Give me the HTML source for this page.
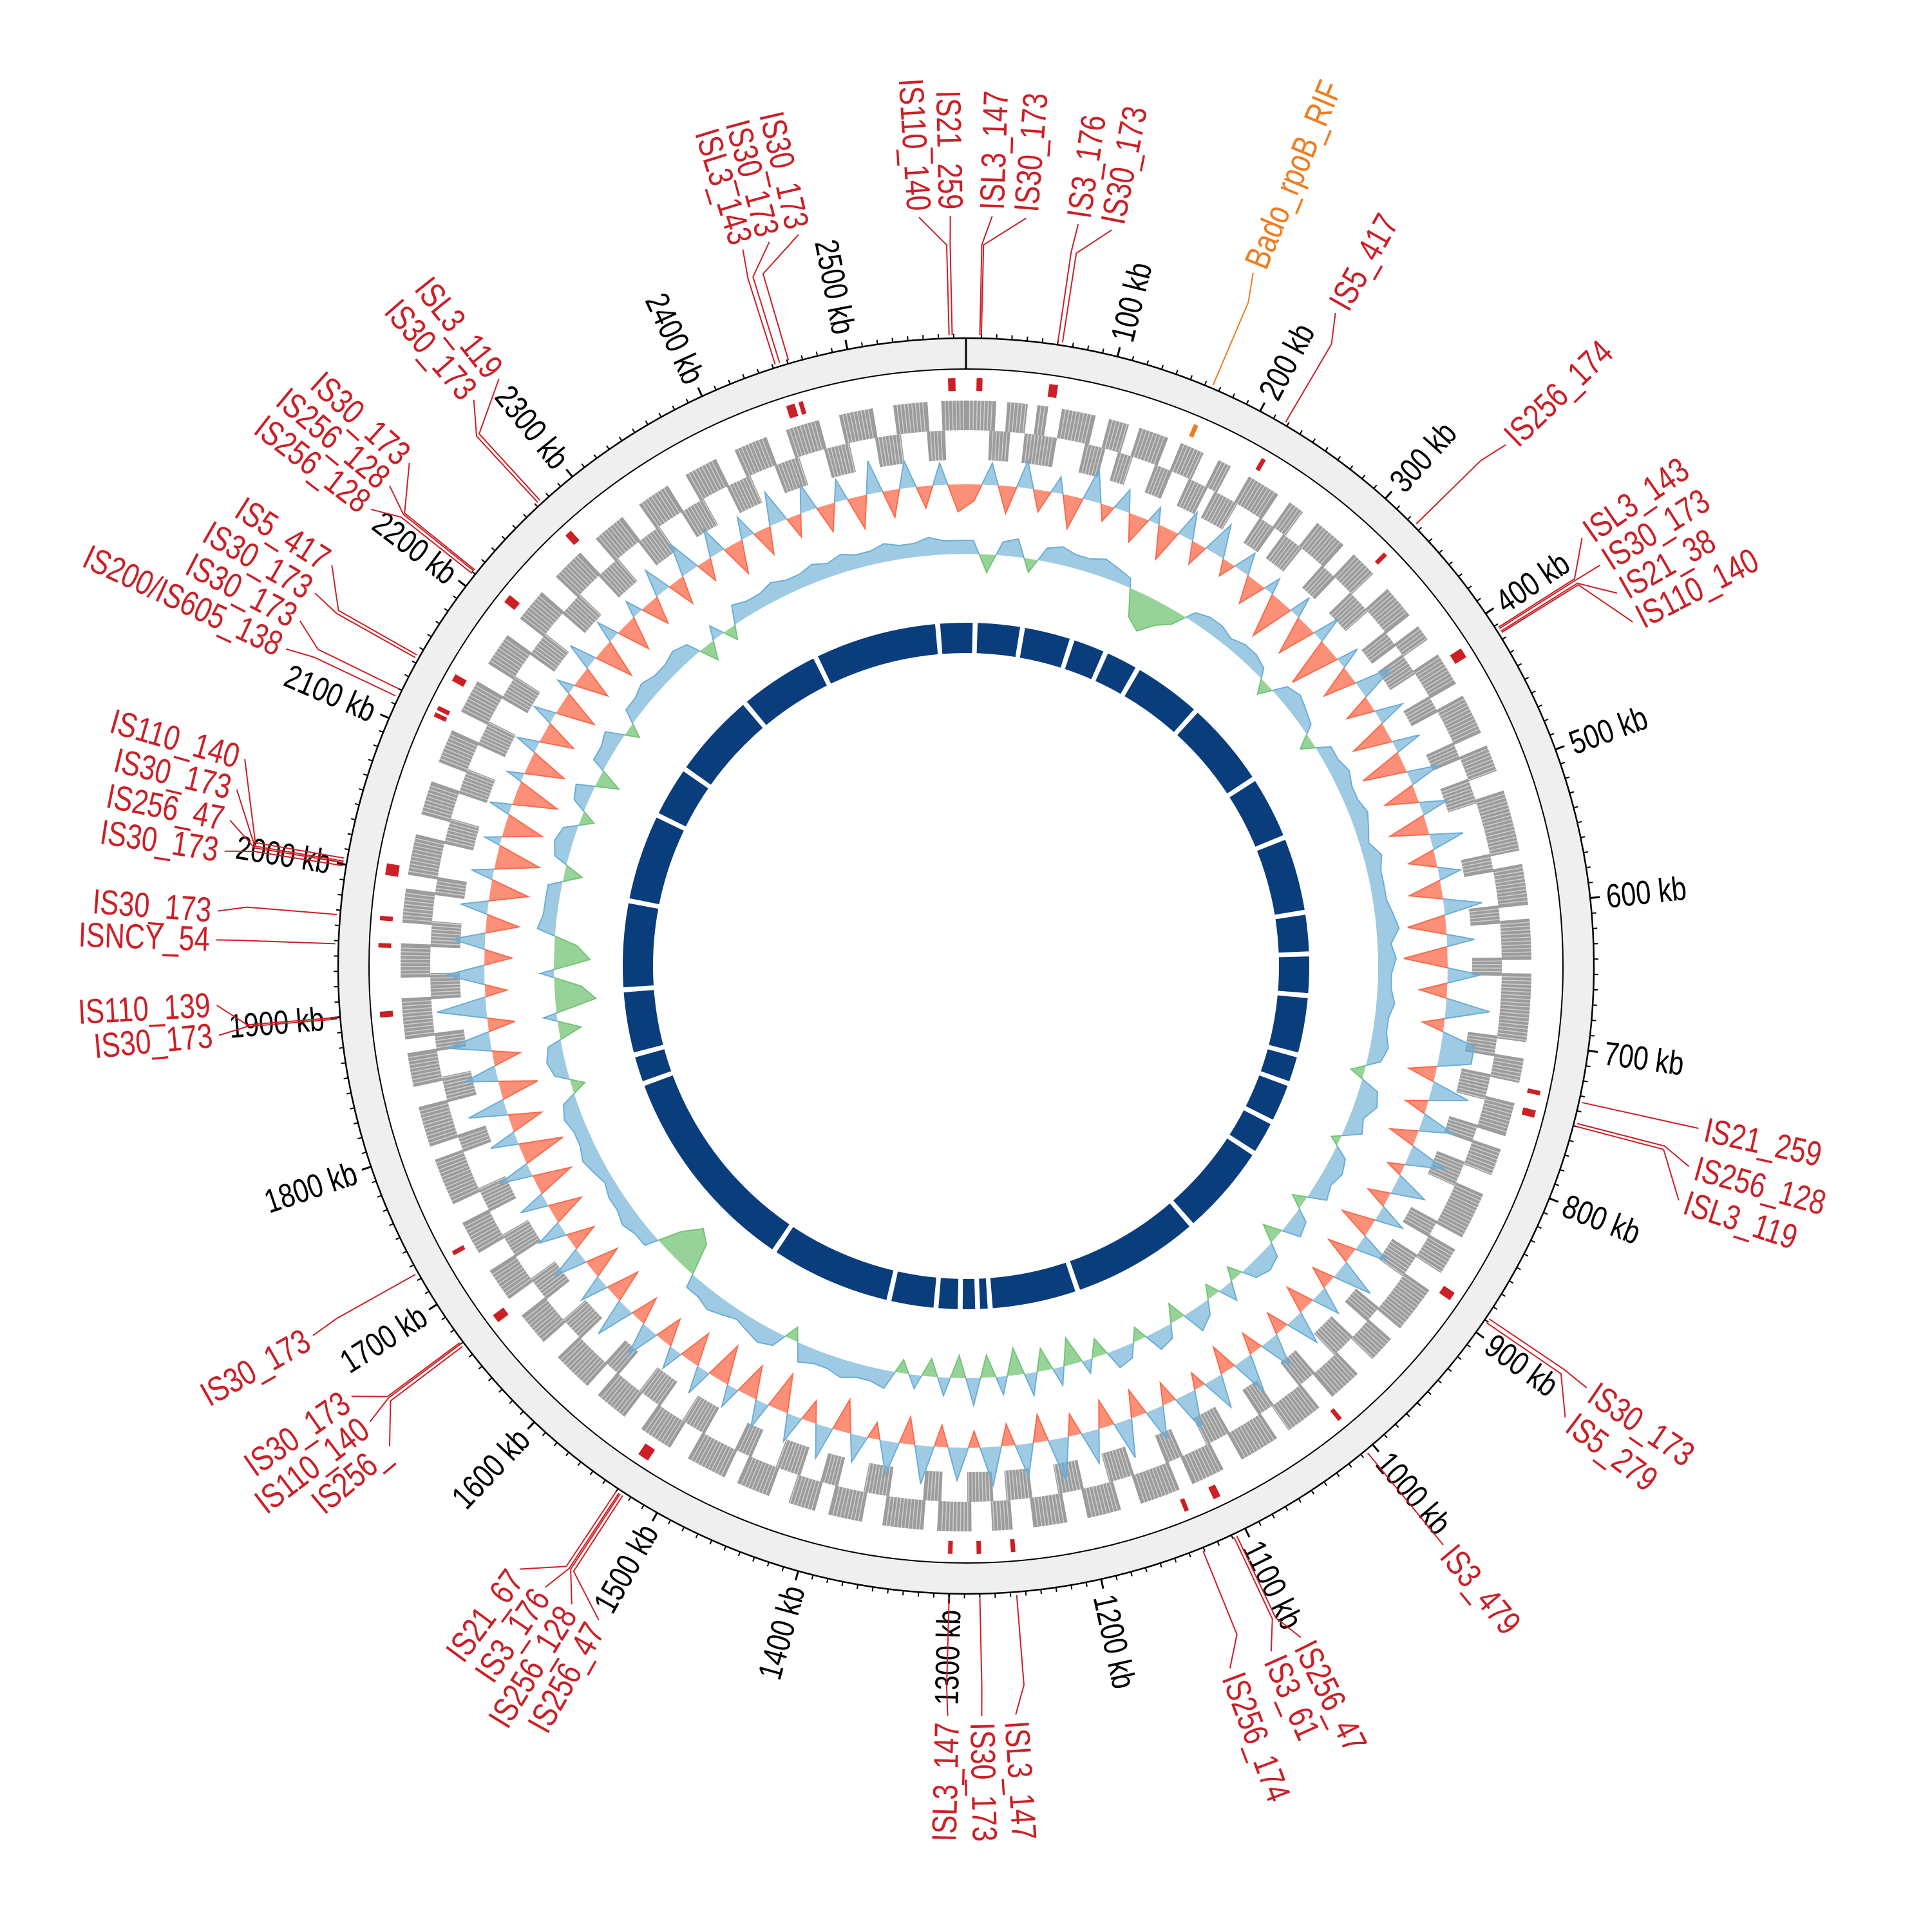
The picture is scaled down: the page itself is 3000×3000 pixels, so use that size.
<!DOCTYPE html>
<html><head><meta charset="utf-8">
<style>
html,body{margin:0;padding:0;background:#fff;}
svg{display:block;}
text{font-family:"Liberation Sans Narrow","Liberation Sans",sans-serif;}
</style></head>
<body>
<svg id="chart" width="3000" height="3000" viewBox="0 0 3000 3000" xmlns="http://www.w3.org/2000/svg">
<rect x="0" y="0" width="3000" height="3000" fill="#fff"/>
<g id="g-root"></g>
</svg>
<script>
// ---------- data ----------
const genomeKb = 2578;
const tickLabelsKb = [100,200,300,400,500,600,700,800,900,1000,1100,1200,1300,1400,1500,1600,1700,1800,1900,2000,2100,2200,2300,2400,2500];
const gcContent = [
-0.3,0.4,-0.5,0.5,-0.4,0.3,-0.6,0.6,-0.3,0.4,
-0.5,0.3,-0.6,0.5,-0.4,0.6,-0.3,0.4,-0.5,0.3,
-0.8,0.4,-0.7,0.5,-0.9,0.4,-0.6,0.7,-0.5,0.5,
-0.7,0.5,-0.8,0.6,-0.6,0.5,-0.7,0.6,-0.5,0.4,
-0.6,0.7,-0.7,0.5,-0.8,0.6,-0.5,0.8,-0.4,0.6,
0.6,-0.5,0.7,-0.4,0.6,-0.5,0.7,-0.3,0.6,-0.4,
0.5,-0.6,0.6,-0.5,0.7,-0.4,0.5,-0.5,0.6,-0.4,
0.6,-0.4,0.7,-0.5,0.6,-0.3,0.7,-0.4,0.6,-0.5,
0.7,-0.5,0.6,-0.4,0.8,-0.5,0.6,-0.4,0.7,-0.3,
0.6,-0.4,0.7,-0.5,0.6,-0.3,0.5,-0.6,0.6,-0.4,
0.5,-0.7,0.5,-0.6,0.4,-0.7,0.5,-0.6,0.4,-0.5,
0.6,-0.5,0.7,-0.6,0.5,-0.6,0.6,-0.5,0.5,-0.6,
0.5,-0.7,0.6,-0.8,0.5,-0.6,0.7,-0.7,0.6,-0.5,
0.8,-0.5,0.9,-0.4,0.7,-0.5,0.6,-0.6,0.5,-0.7,
0.4,-0.8,0.3,-0.7,0.4,-0.8,0.3,-0.7,0.4,-0.6,
0.4,-0.7,0.3,-0.6,0.5,-0.7,0.4,-0.6,0.3,-0.5,
0.5,-0.5,0.6,-0.4,0.5,-0.6,0.4,-0.5,0.6,-0.4,
0.5,-0.5,0.4,-0.6,0.6,-0.5,0.5,-0.4,0.4,-0.5];
const gcSkew = [
0.3,-0.4,0.3,0.4,-0.3,0.3,0.4,0.3,0.3,0.4,
0.3,0.2,-0.6,-0.8,-0.5,-0.3,0.2,0.3,0.3,0.2,
0.3,0.3,0.2,-0.3,0.3,0.4,0.3,0.2,-0.3,0.3,
0.3,0.4,0.3,0.3,0.4,0.3,0.2,0.4,0.3,0.3,
0.3,0.4,0.5,0.3,0.4,0.3,0.3,0.4,0.3,0.3,
0.4,0.3,-0.3,0.4,0.5,0.3,0.4,-0.2,0.3,0.4,
0.3,0.4,-0.3,0.3,0.4,-0.4,0.3,0.4,0.3,-0.3,
0.4,-0.3,0.3,0.5,-0.4,0.3,0.4,-0.3,0.3,0.4,
-0.4,0.3,-0.6,0.4,-0.5,0.5,-0.6,0.4,-0.5,0.6,
-0.5,0.4,-0.4,0.3,-0.3,0.4,0.3,0.3,0.4,0.3,
0.3,0.4,-0.3,0.3,0.4,0.3,0.2,0.3,0.4,0.3,
0.3,-0.7,-0.9,-0.5,0.3,0.3,0.4,0.3,0.3,0.2,
0.3,0.4,0.3,0.3,0.4,0.3,-0.3,0.3,0.4,0.3,
-0.5,0.3,-0.9,-0.6,0.3,-0.8,-0.5,0.4,0.3,0.3,
0.3,-0.4,0.3,0.4,0.3,-0.3,0.3,0.4,-0.5,0.3,
0.3,0.4,-0.3,0.3,0.3,0.4,0.3,0.3,0.4,0.3,
-0.4,0.3,-0.3,0.4,0.3,0.3,0.4,0.3,0.3,0.4,
0.3,0.4,0.3,0.3,0.4,0.3,0.3,0.4,0.3,0.3];
const fwdGenes = [[0,22],[30,45],[52,60],[70,95],[105,120],[128,150],[160,178],[190,200],[215,240],[250,262],[275,300],[310,330],[345,370],[380,392],[405,430],[440,470],[480,500],[515,560],[570,600],[610,640],[650,700],[712,730],[745,770],[780,800],[815,850],[860,880],[895,930],[940,960],[975,1000],[1012,1040],[1050,1080],[1095,1120],[1130,1160],[1175,1200],[1215,1240],[1255,1270],[1285,1310],[1320,1350],[1365,1390],[1400,1420],[1435,1460],[1470,1500],[1515,1540],[1555,1580],[1590,1620],[1635,1660],[1675,1700],[1715,1740],[1755,1790],[1800,1830],[1845,1870],[1880,1910],[1925,1950],[1965,1990],[2000,2030],[2045,2070],[2085,2110],[2125,2150],[2165,2190],[2205,2230],[2245,2270],[2285,2310],[2325,2350],[2365,2390],[2405,2430],[2445,2470],[2485,2510],[2525,2550],[2560,2578]];
const revGenes = [[18,34],[45,70],[92,108],[118,130],[148,162],[176,192],[198,218],[238,252],[260,278],[298,312],[328,348],[368,382],[390,408],[428,442],[468,482],[498,518],[558,572],[598,612],[638,652],[698,714],[728,748],[768,782],[798,818],[848,862],[878,898],[928,942],[958,978],[998,1014],[1038,1052],[1078,1098],[1118,1132],[1158,1178],[1198,1218],[1238,1258],[1268,1288],[1308,1322],[1348,1368],[1388,1402],[1418,1438],[1458,1472],[1498,1518],[1538,1558],[1578,1592],[1618,1638],[1658,1678],[1698,1718],[1738,1758],[1788,1802],[1828,1848],[1868,1882],[1908,1928],[1948,1968],[1988,2002],[2028,2048],[2068,2088],[2108,2128],[2148,2168],[2188,2208],[2228,2248],[2268,2288],[2308,2328],[2348,2368],[2388,2408],[2428,2448],[2468,2488],[2508,2528],[2548,2562]];
const coreGapsKb = [2544,11,68,129,172,215,301,408,487,580,630,680,752,788,838,881,995,1153,1260,1275,1296,1325,1382,1532,1790,1826,1905,2012,2120,2184,2291,2392];
const isNames = ["IS110_140","IS21_259","ISL3_147","IS30_173","IS3_176","IS30_173","Bado_rpoB_RIF","IS5_417","IS256_174","ISL3_143","IS30_173","IS21_38","IS110_140","IS21_259","IS256_128","ISL3_119","IS30_173","IS5_279","IS3_479","IS256_47","IS3_61","IS256_174","ISL3_147","IS30_173","ISL3_147","IS256_47","IS256_128","IS3_176","IS21_67","IS256_","IS110_140","IS30_173","IS30_173","IS30_173","IS110_139","ISNCY_54","IS30_173","IS30_173","IS256_47","IS30_173","IS110_140","IS200/IS605_138","IS30_173","IS30_173","IS5_417","IS256_128","IS256_128","IS30_173","IS30_173","ISL3_119","ISL3_143","IS30_173","IS30_173"];
const isKb = [2567,2569,9,10,60,63,165,218,326,412,413,415,416,734,748,750,888,891,1006,1107,1109,1131,1256,1280,1300,1525,1527,1528,1530,1668,1670,1671,1724,1899,1900,1948,1967,1999,2001,2002,2004,2115,2120,2143,2145,2209,2211,2212,2272,2274,2452,2455,2461];
const isLabelDeg = [-3.6,-1.2,2.0,4.6,8.6,11.2,22.5,29.5,46,55.2,57.7,60.2,62.7,102.5,105.5,108.2,124.2,127,140.5,153.5,156,159.4,176.2,178.8,181.4,209.3,211.7,214.1,216.5,230.2,232.6,235,240.5,264.7,267,272,274.2,278.8,281.2,283.6,286,295,297.4,299.8,302.3,307.5,309.8,312.1,319,321.5,342.7,344.8,347.1];

// ---------- helpers ----------
const NS = "http://www.w3.org/2000/svg";
const CX = 1500, CY = 1500;
const root = document.getElementById('g-root');
function ang(kb){ return kb / genomeKb * 2 * Math.PI; }
function px(r,a){ return [CX + r*Math.sin(a), CY - r*Math.cos(a)]; }
function mk(tag, attrs, parent){ const e = document.createElementNS(NS, tag); for (const k in attrs) e.setAttribute(k, attrs[k]); (parent||root).appendChild(e); return e; }
function arcPath(r1, r2, a1, a2){
  const large = (a2 - a1) > Math.PI ? 1 : 0;
  const p1 = px(r2,a1), p2 = px(r2,a2), p3 = px(r1,a2), p4 = px(r1,a1);
  return `M${p1[0]},${p1[1]} A${r2},${r2} 0 ${large} 1 ${p2[0]},${p2[1]} L${p3[0]},${p3[1]} A${r1},${r1} 0 ${large} 0 ${p4[0]},${p4[1]} Z`;
}
function circlePath(r){
  return `M${CX},${CY-r} A${r},${r} 0 1 1 ${CX},${CY+r} A${r},${r} 0 1 1 ${CX},${CY-r} Z`;
}
const SX = 0.8;

// ---------- outer ideogram ring ----------
const ring = mk('path', {d: circlePath(975) + ' ' + circlePath(927), 'fill-rule':'evenodd', fill:'#efefef', stroke:'none'});


const oc = mk('circle', {cx:CX, cy:CY, r:975, fill:'none', stroke:'#000', 'stroke-width':2.5});


const ic = mk('circle', {cx:CX, cy:CY, r:927, fill:'none', stroke:'#000', 'stroke-width':2});


const z0 = px(927,0), z1 = px(975,0);
const origin = mk('line', {x1:z0[0], y1:z0[1], x2:z1[0], y2:z1[1], stroke:'#000', 'stroke-width':3});



// ticks
const tg = mk('g', {});


for (let kb = 10; kb < genomeKb; kb += 10){
  const major = kb % 100 === 0;
  const a = ang(kb);
  const p1 = px(975, a), p2 = px(major ? 990 : 982, a);
  const t = mk('line', {x1:p1[0], y1:p1[1], x2:p2[0], y2:p2[1], stroke:'#000', 'stroke-width': major ? 3 : 2}, tg);
  
  
}
for (const kb of tickLabelsKb){
  const a = ang(kb), deg = a*180/Math.PI;
  const p = px(1000, a);
  const right = deg < 180;
  const t = mk('text', {x:0, y:0, 'font-size':52, fill:'#000', 'dominant-baseline':'central',
    'text-anchor': right ? 'start' : 'end',
    transform:`translate(${p[0]} ${p[1]}) rotate(${right ? deg-90 : deg+90}) scale(${SX} 1)`});
  t.textContent = kb + ' kb';
  
  
}

// ---------- IS element markers and labels ----------
const lg = mk('g', {});


isNames.forEach((nm, i) => {
  const col = nm.indexOf('Bado') === 0 ? '#f07c1e' : '#cc1f26';
  const a = ang(isKb[i]);
  const la = isLabelDeg[i] * Math.PI/180;
  const m1 = px(893, a), m2 = px(913, a);
  const mark = mk('line', {x1:m1[0], y1:m1[1], x2:m2[0], y2:m2[1], stroke:col, 'stroke-width':7}, lg);
  
  
  const q1 = px(980, a), q2 = px(1120, a), q3 = px(1165, la);
  const ld = mk('polyline', {points:`${q1[0]},${q1[1]} ${q2[0]},${q2[1]} ${q3[0]},${q3[1]}`, fill:'none', stroke:col, 'stroke-width':2}, lg);
  
  
  let deg = isLabelDeg[i]; if (deg < 0) deg += 360;
  const right = deg < 180;
  const p = px(1175, la);
  const t = mk('text', {x:0, y:0, 'font-size':54, fill:col, 'dominant-baseline':'central',
    'text-anchor': right ? 'start' : 'end',
    transform:`translate(${p[0]} ${p[1]}) rotate(${right ? deg-90 : deg+90}) scale(${SX} 1)`}, lg);
  t.textContent = nm;
  
  
});

// ---------- gene tracks ----------
function drawGenes(list, r1, r2, name){
  const g = mk('g', {});
  
  
  for (const [s, e] of list){
    const p = mk('path', {d: arcPath(r1, r2, ang(s), ang(e)), fill:'#9c9c9c'}, g);
    
    
    for (let k = s + 2.7; k < e - 0.8; k += 2.7){
      const a = ang(k);
      const u1 = px(r1, a), u2 = px(r2, a);
      const sep = mk('line', {x1:u1[0], y1:u1[1], x2:u2[0], y2:u2[1], stroke:'#cfcfcf', 'stroke-width':1.5}, g);
      
      
    }
  }
}
drawGenes(fwdGenes, 832, 878, 'forward-genes-track');
drawGenes(revGenes, 786, 832, 'reverse-genes-track');

// ---------- line/area tracks ----------
let clipCount = 0;
function areaTrack(vals, base, amp, posCol, negCol, name){
  const g = mk('g', {});
  
  
  const n = vals.length;
  let d = '';
  vals.forEach((v, i) => {
    const a = (i + 0.5) / n * 2 * Math.PI;
    const p = px(base + v*amp, a);
    d += (i ? 'L' : 'M') + p[0].toFixed(1) + ',' + p[1].toFixed(1);
  });
  d += 'Z';
  const id = 'clip' + (clipCount++);
  const defs = mk('defs', {}, g);
  const cpO = mk('clipPath', {id: id + 'o'}, defs);
  mk('path', {d: circlePath(base + 200) + ' ' + circlePath(base), 'clip-rule':'evenodd'}, cpO);
  const cpI = mk('clipPath', {id: id + 'i'}, defs);
  mk('circle', {cx:CX, cy:CY, r:base}, cpI);
  const po = mk('path', {d: d, fill:posCol, 'fill-opacity':0.65, stroke:posCol, 'stroke-width':2, 'clip-path':`url(#${id}o)`}, g);
  
  
  const pn = mk('path', {d: circlePath(base) + ' ' + d, 'fill-rule':'evenodd', fill:negCol, 'fill-opacity':0.75, stroke:'none', 'clip-path':`url(#${id}i)`}, g);
  
  
  const ln = mk('path', {d: d, fill:'none', stroke:negCol, 'stroke-width':2, 'clip-path':`url(#${id}i)`}, g);
  
  
}
areaTrack(gcContent, 748, 85, '#6baed6', '#fb6a4a', 'gc-content-track');
areaTrack(gcSkew, 640, 70, '#6baed6', '#74c476', 'gc-skew-track');

// ---------- core genome ring ----------
const cg = mk('g', {});


const gaps = coreGapsKb.slice().sort((x, y) => x - y);
for (let i = 0; i < gaps.length; i++){
  const s = gaps[i] + 3;
  const e = (i + 1 < gaps.length ? gaps[i+1] : gaps[0] + genomeKb) - 3;
  const seg = mk('path', {d: arcPath(486, 533, ang(s), ang(e)), fill:'#0a3d7c'}, cg);
  
  
}
</script>
</body></html>
